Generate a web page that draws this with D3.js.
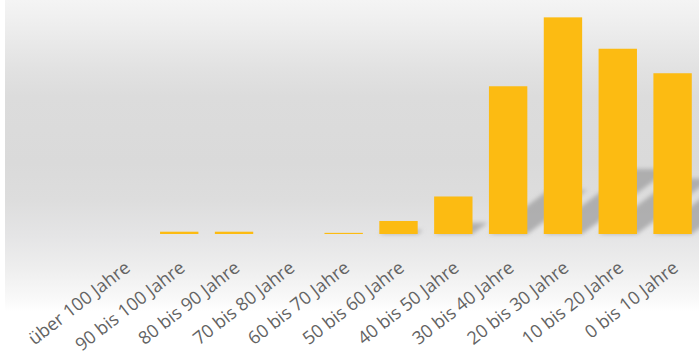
<!DOCTYPE html>
<html>
<head>
<meta charset="utf-8">
<script src="https://cdn.jsdelivr.net/npm/d3@7"></script>
<style>
  html, body { margin: 0; padding: 0; background: #ffffff; }
  svg { display: block; }
</style>
</head>
<body>
<svg id="chart" width="699" height="356"></svg>
<script>
// Age classes, oldest first
const categories = [
  "über 100 Jahre", "90 bis 100 Jahre", "80 bis 90 Jahre", "70 bis 80 Jahre",
  "60 bis 70 Jahre", "50 bis 60 Jahre", "40 bis 50 Jahre", "30 bis 40 Jahre",
  "20 bis 30 Jahre", "10 bis 20 Jahre", "0 bis 10 Jahre"
];
// Share per age class (%)
const shares = [0, 0.3, 0.3, 0, 0.15, 1.7, 4.9, 19.3, 28.3, 24.2, 21.0];
const yDomain = [0, 29];

const W = 699, H = 356;
const baseY = 234;

const svg = d3.select("#chart");
const defs = svg.append("defs");

// soft grey backdrop fading to white at the bottom
const bg = defs.append("linearGradient")
  .attr("id", "bgGrad").attr("x1", 0).attr("y1", 0).attr("x2", 0).attr("y2", 1);
[
  [0, "#f4f4f4"], [0.08, "#eeeeee"], [0.16, "#e7e7e7"], [0.23, "#e1e1e1"],
  [0.31, "#dcdcdc"], [0.52, "#dadada"], [0.64, "#dddddd"], [0.76, "#e5e5e6"],
  [0.86, "#eeeeee"], [0.95, "#f8f8f8"], [1, "#ffffff"]
].forEach(([o, c]) => bg.append("stop").attr("offset", o).attr("stop-color", c));

const blur = defs.append("filter").attr("id", "shadowBlur")
  .attr("x", "-30%").attr("y", "-30%").attr("width", "160%").attr("height", "160%");
blur.append("feGaussianBlur").attr("stdDeviation", 2.2);

svg.append("rect")
  .attr("x", 5).attr("y", 0).attr("width", W - 5).attr("height", 312)
  .attr("fill", "url(#bgGrad)");

const x = d3.scaleBand()
  .domain(categories)
  .range([97, 700])
  .paddingInner(0.3)
  .paddingOuter(0.15);

const y = d3.scaleLinear().domain(yDomain).range([baseY, 12]);

const data = categories.map((c, i) => ({ cat: c, v: shares[i] }));

// cast shadows leaning to the upper right
const skew = 1.35, shadowScale = 0.3;
svg.append("g").attr("filter", "url(#shadowBlur)")
  .selectAll("path")
  .data(data.filter(d => d.v > 1))
  .join("path")
  .attr("d", d => {
    const x0 = x(d.cat), x1 = x0 + x.bandwidth();
    const hs = (y(0) - y(d.v)) * shadowScale;
    const dx = hs * skew;
    return `M${x0},${y(0)}L${x1},${y(0)}L${x1 + dx},${y(0) - hs}L${x0 + dx},${y(0) - hs}Z`;
  })
  .attr("fill", "#a2a2a4")
  .attr("opacity", 0.8);

svg.append("g")
  .selectAll("rect")
  .data(data)
  .join("rect")
  .attr("x", d => x(d.cat))
  .attr("width", x.bandwidth())
  .attr("y", d => y(d.v))
  .attr("height", d => y(0) - y(d.v))
  .attr("fill", "#fcbb12");

// rotated category labels
const xAxis = d3.axisBottom(x).tickSize(0).tickPadding(0);
const gx = svg.append("g").attr("transform", `translate(0,${baseY})`).call(xAxis);
gx.select(".domain").remove();
gx.selectAll(".tick text")
  .attr("font-family", "'Open Sans', Lato, sans-serif")
  .attr("font-size", 18)
  .attr("fill", "#636363")
  .attr("text-anchor", "end")
  .attr("dy", 0)
  .attr("transform", "translate(7,36) rotate(-38)");
</script>
</body>
</html>
